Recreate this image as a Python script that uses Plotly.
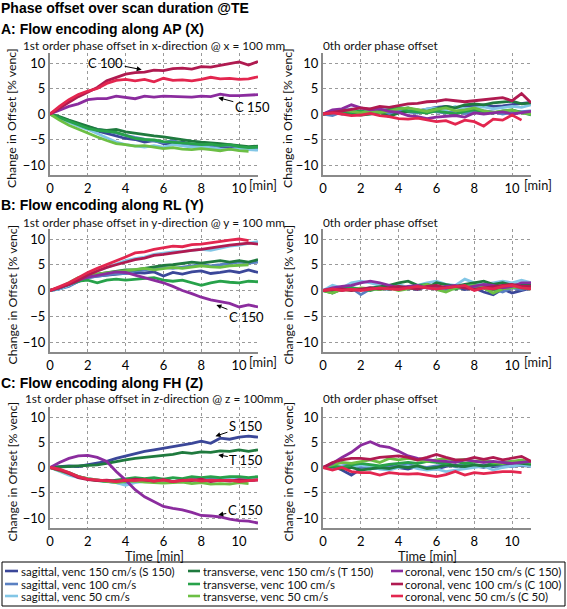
import plotly.graph_objects as go

W, H = 567, 609

# ---------------- data ----------------
T = [0, 0.5, 1, 1.5, 2, 2.5, 3, 3.5, 4, 4.5, 5, 5.5, 6, 6.5, 7, 7.5, 8, 8.5, 9, 9.5, 10, 10.5, 11]

series_names = ["sagittal, venc 150 cm/s (S 150)", "sagittal, venc 100 cm/s", "sagittal, venc 50 cm/s",
                "transverse, venc 150 cm/s (T 150)", "transverse, venc 100 cm/s", "transverse, venc 50 cm/s",
                "coronal, venc 150 cm/s (C 150)", "coronal, venc 100 cm/s (C 100)", "coronal, venc 50 cm/s (C 50)"]
series_colors = ["#3b4799", "#5a80c2", "#82c6e6", "#1f7a3e", "#27a24a", "#6cbf44", "#8b2c9e", "#b01a50", "#e3264f"]

# Panel A, 1st order (x)
A1_S150 = [0, -0.8, -1.5, -2.2, -2.8, -3.3, -3.8, -4.3, -4.8, -5.0, -5.5, -5.2, -5.8, -6.0, -5.5, -6.0, -6.2, -6.0, -6.4, -6.5, -6.4, -6.8, -6.7]
A1_S100 = [0, -0.6, -1.3, -2.0, -2.5, -3.0, -3.3, -3.8, -4.2, -4.6, -5.0, -5.3, -5.6, -5.2, -5.8, -6.0, -5.8, -6.2, -6.3, -6.2, -6.5, -6.6, -6.9]
A1_S50 = [0, -0.8, -1.6, -2.4, -3.0, -3.8, -4.6, -5.5, -6.0, -6.3, -6.5, -6.2, -6.5, -6.0, -6.3, -6.5, -6.4, -6.7, -6.9, -7.0, -6.8, -7.0, -7.1]
A1_T150 = [0, -0.5, -1.2, -1.8, -2.5, -3.0, -3.2, -3.0, -3.5, -3.8, -4.0, -4.3, -4.5, -4.8, -5.0, -5.3, -5.5, -5.6, -5.8, -6.0, -6.2, -6.4, -6.3]
A1_T100 = [0, -0.7, -1.5, -2.2, -2.8, -3.2, -3.4, -3.6, -4.2, -4.8, -5.0, -5.1, -5.4, -5.5, -5.7, -5.8, -6.0, -5.9, -6.2, -6.0, -6.4, -6.6, -6.5]
A1_T50 = [0, -1.2, -2.2, -3.0, -3.8, -4.5, -5.2, -5.8, -6.0, -6.3, -6.2, -6.5, -6.8, -6.6, -6.9, -7.0, -6.8, -7.0, -7.2, -6.9, -7.2, -7.3, None]
A1_C150 = [0, 0.8, 1.5, 2.0, 2.8, 3.0, 3.0, 3.5, 3.3, 3.0, 3.5, 3.3, 3.5, 3.4, 3.4, 3.3, 3.5, 3.4, 3.9, 3.6, 3.6, 3.7, 3.8]
A1_C100 = [0, 1.2, 2.3, 3.4, 4.3, 5.2, 6.5, 7.2, 7.8, 8.1, 8.2, 8.6, 8.5, 8.9, 9.0, 8.8, 9.3, 9.2, 9.6, 9.9, 10.2, 9.6, 10.3]
A1_C50 = [0, 1.5, 2.8, 3.8, 4.5, 5.0, 6.0, 6.6, 6.8, 6.5, 6.8, 6.3, 7.0, 6.6, 6.7, 6.5, 6.8, 7.2, 6.9, 7.0, 6.8, 6.9, 7.3]

# Panel A, 0th order
A0_S150 = [0, 0.5, 0.0, 0.3, 0.5, 0.2, 0.6, 1.0, 0.8, 1.2, 0.6, 1.0, 1.3, 1.5, 1.2, 1.6, 1.5, 1.8, 1.5, 1.6, 1.8, 2.0, 2.3]
A0_S100 = [0, -0.3, 0.4, 0.2, 0.0, 0.5, 0.3, 0.0, 0.6, 0.4, 0.2, 0.8, 0.4, 0.2, 0.5, 0.1, 0.3, 0.6, 0.4, 0.0, 0.3, 0.5, 0.6]
A0_S50 = [0, 0.5, 0.8, 1.0, 0.5, 1.0, 0.8, 1.2, 1.5, 0.8, 0.5, 1.0, 1.2, 0.8, 1.5, 1.0, 1.2, 1.4, 1.0, 1.2, 1.5, 1.3, 1.8]
A0_T150 = [0, 0.3, 0.2, 0.0, -0.2, 0.0, 0.3, -0.5, 0.2, 0.5, 0.8, 0.5, 1.0, 1.5, 1.2, 1.8, 2.0, 1.8, 2.2, 2.3, 2.5, 2.0, 2.2]
A0_T100 = [0, 0.2, 0.5, 0.3, 0.6, 0.2, 0.5, 0.8, 1.2, 0.6, 0.4, 0.2, 0.6, 0.3, 0.0, 0.5, 0.8, 0.4, 0.2, 0.6, 0.8, 0.3, -0.2]
A0_T50 = [0, 0.4, 0.8, 0.5, 0.2, 0.6, 0.3, 0.5, 1.0, 1.2, 0.8, 0.5, 0.9, 1.2, 0.6, 0.8, 1.2, 0.6, 0.3, 0.5, 0.8, 0.2, 0.0]
A0_C150 = [0, 0.8, 1.0, 1.8, 1.2, 0.8, 1.0, 0.5, 0.3, -0.3, -0.5, -0.9, -0.6, -0.5, -0.3, -0.6, 0.2, 0.0, 0.2, 0.4, 0.0, 0.3, 0.5]
A0_C100 = [0, 0.3, 0.5, 0.8, 1.2, 1.0, 1.5, 1.3, 1.7, 2.0, 2.1, 2.4, 2.5, 2.8, 2.6, 2.4, 2.6, 2.8, 3.0, 3.2, 2.6, 4.0, 2.2]
A0_C50 = [0, 0.2, 0.0, -0.3, -0.2, 0.1, -0.3, -0.5, -0.9, -1.0, -0.8, -1.2, -1.5, -1.3, -2.0, -1.2, -1.5, -2.4, -1.0, -1.2, -0.2, -1.2, None]

# Panel B, 1st order (y)
B1_S150 = [0, 0.3, 1.0, 1.8, 2.5, 2.8, 3.0, 3.2, 3.3, 3.5, 3.4, 3.6, 2.8, 3.5, 3.2, 3.6, 3.8, 3.3, 3.5, 3.8, 3.5, 4.0, 3.5]
B1_S100 = [0, 0.3, 0.8, 1.8, 2.5, 2.8, 3.0, 3.3, 3.3, 3.8, 4.0, 4.2, 4.5, 4.3, 4.6, 4.8, 5.0, 4.8, 5.0, 5.3, 5.5, 5.3, 5.5]
B1_S50 = [0, 0.3, 1.0, 2.0, 3.0, 3.8, 4.5, 5.2, 5.8, 6.2, 6.5, 7.0, 7.3, 7.5, 7.6, 7.8, 8.0, 7.8, 8.2, 8.6, 8.8, 9.2, 9.5]
B1_T150 = [0, 0.5, 1.2, 2.0, 2.8, 3.2, 3.5, 3.8, 4.0, 4.0, 4.3, 4.6, 4.9, 5.0, 5.3, 5.5, 5.3, 5.5, 5.8, 5.5, 5.8, 5.5, 6.0]
B1_T100 = [0, 0.5, 1.2, 1.8, 2.0, 1.5, 2.0, 2.2, 2.0, 2.2, 2.3, 2.5, 2.0, 1.8, 2.0, 1.5, 1.0, 1.5, 1.8, 1.6, 1.5, 1.8, 1.7]
B1_T50 = [0, 0.6, 1.5, 2.5, 3.0, 3.2, 3.5, 3.6, 3.8, 4.0, 4.3, 4.0, 4.2, 4.5, 4.3, 4.5, 4.8, 4.6, 4.5, 4.8, 4.9, 5.0, None]
B1_C150 = [0, 0.5, 1.2, 2.0, 2.6, 3.0, 3.3, 3.6, 3.5, 3.0, 2.5, 2.0, 1.5, 0.8, 0.0, -0.6, -1.3, -1.8, -2.2, -2.5, -3.2, -2.8, -3.2]
B1_C100 = [0, 0.6, 1.2, 2.0, 3.0, 3.8, 4.5, 5.0, 5.5, 6.0, 6.3, 6.8, 7.0, 7.3, 7.5, 7.8, 8.0, 8.3, 8.5, 8.8, 9.0, 9.2, 9.0]
B1_C50 = [0, 0.8, 1.5, 2.5, 3.5, 4.3, 5.0, 5.8, 6.5, 7.3, 7.5, 8.0, 8.3, 8.6, 8.5, 8.9, 9.0, 9.3, 9.5, 9.8, 10.0, 9.7, None]

# Panel B, 0th order
B0_S150 = [0, 0.3, 0.0, 0.5, 0.3, 0.5, 0.2, 0.6, 0.4, 0.5, 0.2, 0.8, 0.5, 0.3, 0.8, 0.2, 0.5, -0.3, -0.8, 0.3, -0.5, 0.0, 0.5]
B0_S100 = [0, 0.5, 0.2, 0.5, -0.8, 0.3, 0.5, 0.2, 0.8, 0.3, 0.5, 1.0, 0.5, 0.2, 0.8, 0.5, 0.3, 0.8, 0.2, -0.3, 0.5, 0.2, 0.6]
B0_S50 = [0, 1.0, 0.5, 1.5, 1.8, 1.5, 1.0, 0.8, 1.2, 0.5, 1.0, 1.5, 1.8, 1.2, 1.0, 2.2, 1.5, 1.2, 1.5, 1.8, 1.5, 2.0, 1.5]
B0_T150 = [0, -0.5, 0.3, 0.5, 0.2, 0.5, 0.8, 1.0, 1.5, 1.8, 1.0, 0.5, 1.5, 1.2, 0.8, 1.2, 1.5, 1.8, 1.2, 1.5, 1.0, 1.2, 1.0]
B0_T100 = [0, -0.3, 0.2, 0.5, 0.3, 0.0, 0.5, 0.3, 0.8, 0.5, 1.0, 1.2, 0.8, 0.5, 0.3, 0.8, 1.0, 0.5, 0.2, 0.5, 0.8, 0.5, 0.3]
B0_T50 = [0, -0.5, 0.2, 0.0, 0.5, 0.3, 0.2, 0.5, 0.0, 0.3, 0.5, 1.2, 0.2, -0.3, 0.5, 0.8, 1.0, 0.5, -0.5, 0.3, 0.5, 0.8, 0.5]
B0_C150 = [0, 0.5, 0.8, 1.0, 1.5, 1.8, 1.5, 1.0, 0.5, 0.8, 1.0, 0.5, 0.3, 0.8, 1.0, 0.5, 0.8, 1.2, 1.0, 0.5, 0.8, 1.5, 1.5]
B0_C100 = [0, 0.2, 0.3, 0.0, 0.2, 0.5, 0.3, 0.5, 0.8, 0.5, 0.3, 0.8, 1.0, 0.5, 0.8, 0.5, 0.2, 0.5, 0.8, 1.0, 1.2, 0.8, 0.8]
B0_C50 = [0, 0.3, 0.0, 0.2, 0.0, 0.3, 0.5, 0.3, 0.2, 0.5, 0.8, 0.5, 0.3, 0.5, 0.8, 1.0, 0.0, 0.5, 0.3, 0.8, 1.0, 0.5, 0.3]

# Panel C, 1st order (z)
C1_S150 = [0, 0.2, 0.3, 0.2, 0.5, 0.8, 1.2, 1.8, 2.3, 2.8, 3.2, 3.5, 3.8, 4.2, 4.5, 4.8, 5.2, 4.8, 5.8, 5.6, 6.0, 6.2, 6.0]
C1_S100 = [0, -0.5, -1.2, -1.8, -2.2, -2.5, -2.8, -3.0, -3.2, -2.5, -2.8, -2.5, -2.3, -2.8, -2.5, -2.3, -2.5, -2.2, -2.3, -2.0, -2.2, -2.3, -2.0]
C1_S50 = [0, -0.8, -1.5, -2.0, -2.3, -2.5, -2.8, -3.0, -3.5, -3.0, -2.8, -2.5, -2.6, -2.8, -2.5, -2.7, -2.4, -2.6, -2.5, -2.3, -2.4, -2.5, -2.2]
C1_T150 = [0, 0.1, 0.2, 0.3, 0.3, 0.5, 0.8, 1.2, 1.5, 1.8, 2.0, 2.3, 2.5, 2.6, 3.0, 2.8, 3.1, 3.0, 3.3, 3.2, 3.5, 3.2, 3.5]
C1_T100 = [0, -0.5, -1.0, -1.8, -2.3, -2.6, -2.8, -2.5, -2.3, -2.0, -2.2, -2.0, -2.3, -2.0, -2.2, -1.8, -2.0, -1.8, -2.0, -1.8, -1.8, -2.0, -1.8]
C1_T50 = [0, -0.6, -1.2, -1.8, -2.2, -2.5, -2.8, -3.0, -2.8, -2.7, -2.9, -3.0, -3.1, -3.0, -2.9, -3.2, -3.0, -3.3, -3.2, -3.3, -3.0, -3.2, None]
C1_C150 = [0, 1.0, 1.8, 2.3, 2.4, 2.0, 1.2, -0.8, -2.5, -4.4, -5.8, -6.8, -7.7, -8.1, -8.4, -8.9, -9.5, -9.6, -9.8, -10.2, -10.5, -10.6, -11.0]
C1_C100 = [0, -0.5, -1.2, -2.0, -2.4, -2.6, -2.5, -2.7, -2.6, -2.3, -2.5, -2.7, -2.4, -2.8, -2.5, -2.6, -2.3, -2.8, -2.5, -2.7, -2.4, -2.6, -2.5]
C1_C50 = [0, -0.3, -1.0, -1.8, -2.3, -2.5, -2.6, -2.8, -2.5, -2.6, -2.4, -2.7, -2.5, -2.8, -2.6, -2.4, -2.7, -2.5, -2.6, -2.5, -2.8, -2.6, -2.4]

# Panel C, 0th order
C0_S150 = [0, 0.3, -0.5, -1.5, -0.3, 0.0, -0.2, 0.3, 0.0, -0.3, 0.2, 0.0, -0.3, 0.2, 0.5, 0.0, 0.3, 0.5, 0.2, 0.3, 0.5, 0.4, 0.3]
C0_S100 = [0, -0.2, 0.3, 0.5, 0.0, -0.3, 0.2, 0.0, 0.3, 0.5, 0.2, 0.0, 0.3, 0.5, 0.2, 0.6, 0.3, 0.0, 0.5, 0.3, 0.2, 0.5, 0.6]
C0_S50 = [0, 0.5, 0.2, 0.0, 0.5, 0.2, -0.3, -0.5, 0.0, 0.3, -0.2, -0.5, -0.3, -0.8, -0.5, -0.2, 0.0, 0.3, -0.5, 0.0, 0.3, 0.5, 0.2]
C0_T150 = [0, 0.2, -0.3, 0.0, -0.5, -0.3, 0.0, -0.2, 0.2, 0.0, 0.3, -0.2, 0.0, 0.5, 0.3, 0.2, 0.5, 0.3, 0.5, 0.8, 1.0, 0.8, 0.6]
C0_T100 = [0, 0.3, 0.0, 0.5, 0.8, 0.5, 0.3, 0.6, 0.8, 1.0, 0.8, 1.2, 1.0, 0.8, 1.2, 0.8, 1.0, 1.2, 0.8, 1.0, 1.2, 1.0, 0.8]
C0_T50 = [0, 0.5, 1.0, 0.8, 1.2, 1.5, 1.0, 1.8, 1.5, 1.8, 1.5, 1.2, 1.5, 1.8, 1.4, 1.6, 1.2, 1.5, 1.0, 0.8, 1.2, 1.5, 1.0]
C0_C150 = [0, 0.8, 2.0, 3.0, 4.4, 5.1, 4.3, 4.0, 3.2, 2.3, 1.8, 1.5, 1.3, 1.2, 1.0, 1.5, 1.3, 1.0, 1.2, 1.0, 0.8, 1.0, 1.2]
C0_C100 = [0, 1.0, 1.5, 1.8, 1.8, 1.6, 2.0, 2.2, 2.3, 2.0, 1.5, 2.0, 2.6, 2.0, 1.5, 1.5, 2.0, 1.6, 2.0, 1.5, 1.8, 2.2, 1.2]
C0_C50 = [0, -0.5, 0.0, -0.8, -1.0, -1.0, -1.5, -1.0, -1.2, -1.3, -1.2, -1.5, -1.8, -1.4, -0.8, -1.5, -1.0, -1.2, -1.0, -0.8, -0.8, -1.0, None]

panels = [
    [A1_S150, A1_S100, A1_S50, A1_T150, A1_T100, A1_T50, A1_C150, A1_C100, A1_C50],
    [A0_S150, A0_S100, A0_S50, A0_T150, A0_T100, A0_T50, A0_C150, A0_C100, A0_C50],
    [B1_S150, B1_S100, B1_S50, B1_T150, B1_T100, B1_T50, B1_C150, B1_C100, B1_C50],
    [B0_S150, B0_S100, B0_S50, B0_T150, B0_T100, B0_T50, B0_C150, B0_C100, B0_C50],
    [C1_S150, C1_S100, C1_S50, C1_T150, C1_T100, C1_T50, C1_C150, C1_C100, C1_C50],
    [C0_S150, C0_S100, C0_S50, C0_T150, C0_T100, C0_T50, C0_C150, C0_C100, C0_C50],
]

x_ticks = [0, 2, 4, 6, 8, 10]
y_ticks = [-10, -5, 0, 5, 10]

# ---------------- layout helpers ----------------
def px(x):
    return x / W

def py(y):
    return 1 - y / H

FONT = "Lato, Roboto, sans-serif"
BOLD = "Liberation Sans, Arial, sans-serif"
TXT = "#111111"
FS = 11.8

x_doms = [[px(50), px(258)], [px(323), px(531)]]
y_doms = [[py(175.2), py(52.8)], [py(352.3), py(228.7)], [py(528.1), py(406.9)]]
rows_px = [(52.8, 175.2), (228.7, 352.3), (406.9, 528.1)]

fig = go.Figure()
layout = dict(width=W, height=H, margin=dict(l=0, r=0, t=0, b=0, autoexpand=False),
              paper_bgcolor="white", plot_bgcolor="white", showlegend=False,
              font=dict(family=FONT, size=12, color=TXT))

for p in range(6):
    r, c = divmod(p, 2)
    idx = p + 1
    xa = "x" if idx == 1 else f"x{idx}"
    ya = "y" if idx == 1 else f"y{idx}"
    for k in range(9):
        fig.add_trace(go.Scatter(x=T, y=panels[p][k], mode="lines", name=series_names[k],
                                 line=dict(color=series_colors[k], width=2.8),
                                 xaxis=xa, yaxis=ya, showlegend=False))
    layout["xaxis" if idx == 1 else f"xaxis{idx}"] = dict(
        domain=x_doms[c], range=[0, 11], tickvals=x_ticks, anchor=ya,
        showgrid=True, gridcolor="#9a9a9a", griddash="dot", gridwidth=1,
        showline=True, linecolor="#8a8a8a", linewidth=2, zeroline=False, ticks="",
        tickfont=dict(size=13, color="#000"), fixedrange=True, automargin=False)
    layout["yaxis" if idx == 1 else f"yaxis{idx}"] = dict(
        domain=y_doms[r], range=[-12, 12], tickvals=y_ticks, anchor=xa,
        showgrid=True, gridcolor="#9a9a9a", griddash="dot", gridwidth=1,
        showline=True, linecolor="#8a8a8a", linewidth=2, zeroline=False, ticks="",
        tickfont=dict(size=13, color="#000"), fixedrange=True, automargin=False)

ann = []

def text(x, y, s, size=FS, bold=False, anchor="left", angle=0, pad=1):
    ann.append(dict(xref="paper", yref="paper", x=px(x), y=py(y), text=s, showarrow=False,
                    xanchor=anchor, yanchor="middle", textangle=angle, borderpad=pad,
                    font=dict(family=BOLD if bold else FONT, size=size, color="#000" if bold else TXT)))

text(-1, 8, "<b>Phase offset over scan duration @TE</b>", 14, True)
text(-1, 29, "<b>A: Flow encoding along AP (X)</b>", 14, True)
text(-1, 205, "<b>B: Flow encoding along RL (Y)</b>", 14, True)
text(-1, 383, "<b>C: Flow encoding along FH (Z)</b>", 14, True)

text(154, 45, "1st order phase offset in x-direction @ x = 100 mm", anchor="center")
text(154, 222, "1st order phase offset in y-direction @ y = 100 mm", anchor="center")
text(154, 398, "1st order phase offset in z-direction @ z = 100mm", anchor="center")
for yy in (45, 222, 398):
    text(321, yy, "0th order phase offset")

for (top, bot) in rows_px:
    cy = (top + bot) / 2 + 4
    text(12, cy, "Change in Offset [% venc]", 12.3, anchor="center", angle=-90)
    text(288, cy, "Change in Offset [% venc]", 12.3, anchor="center", angle=-90)

for (top, bot) in rows_px[:2]:
    text(263, bot + 10, "[min]", 12.8, anchor="center")
    text(538, bot + 10, "[min]", 12.8, anchor="center")
text(154, 556, "Time [min]", 12.8, anchor="center", pad=0)
text(427, 556, "Time [min]", 12.8, anchor="center", pad=0)

def arrow(xa, ya, x, y, s, axp, ayp):
    ann.append(dict(xref=xa, yref=ya, x=x, y=y, ax=axp, ay=ayp, text=s, showarrow=True,
                    arrowhead=2, arrowsize=1, arrowwidth=1, arrowcolor="#000",
                    font=dict(family=FONT, size=13, color="#000")))

arrow("x", "y", 4.85, 8.7, "C 100", -36, -7)
ann.append(dict(xref="x", yref="y", x=11.1, y=7.05, text="C 50", showarrow=False,
                font=dict(family=FONT, size=13, color="#000")))
arrow("x", "y", 8.9, 3.2, "C 150", 34, 9)
arrow("x3", "y3", 8.8, -2.8, "C 150", 30, 12)
arrow("x5", "y5", 8.75, 6.2, "S 150", 30, -10)
arrow("x5", "y5", 8.9, 2.5, "T 150", 28, 5)
arrow("x5", "y5", 8.9, -9.4, "C 150", 27, -5)

# ---------------- legend (drawn box) ----------------
shapes = [dict(type="rect", xref="paper", yref="paper", x0=px(2), x1=px(565), y0=py(606), y1=py(562),
               line=dict(color="#000", width=1), fillcolor="rgba(0,0,0,0)")]
leg_cols = [(5, 18, 20), (188, 200, 202), (391, 403, 404)]
leg_rows = [571, 584, 596]
for k in range(9):
    col = k // 3
    row = k % 3
    x0, x1, xt = leg_cols[col]
    yy = leg_rows[row]
    shapes.append(dict(type="line", xref="paper", yref="paper", x0=px(x0), x1=px(x1), y0=py(yy), y1=py(yy),
                       line=dict(color=series_colors[k], width=2.6)))
    text(xt, yy, series_names[k], 11.5, pad=0)

layout["annotations"] = ann
layout["shapes"] = shapes
fig.update_layout(**layout)
fig.write_html("out.html", config={"displayModeBar": False},
               post_script="document.body.style.margin='0px';document.body.style.padding='0px';")
